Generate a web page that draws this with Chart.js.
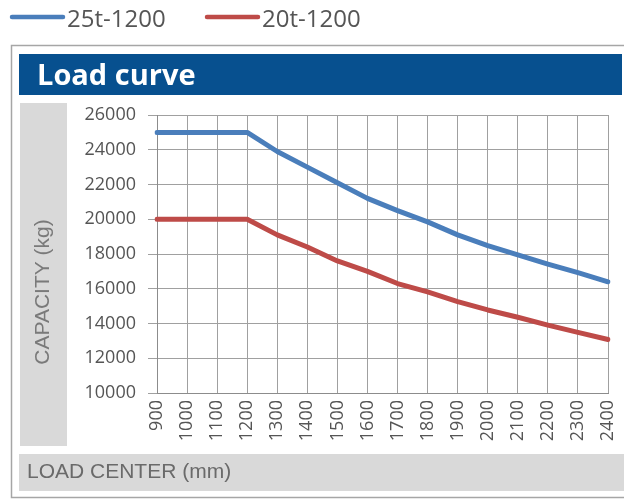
<!DOCTYPE html>
<html>
<head>
<meta charset="utf-8">
<script src="https://cdn.jsdelivr.net/npm/chart.js@4/dist/chart.umd.min.js"></script>
<style>
html,body{margin:0;padding:0;background:#fff;}
#wrap{width:624px;height:499px;position:relative;}
</style>
</head>
<body>
<div id="wrap"><canvas id="c" width="624" height="499"></canvas></div>
<script>
const loadCenters = ['900','1000','1100','1200','1300','1400','1500','1600','1700','1800','1900','2000','2100','2200','2300','2400'];
const cap25t = [25000,25000,25000,25000,23900,23000,22100,21200,20500,19850,19100,18480,17950,17420,16930,16400];
const cap20t = [20000,20000,20000,20000,19100,18400,17600,17000,16300,15820,15260,14780,14360,13910,13490,13080];
const seriesLabels = ['25t-1200','20t-1200'];
const chartTitle = 'Load curve';
const yTitle = 'CAPACITY (kg)';
const xTitle = 'LOAD CENTER (mm)';

const BLUE = '#4a7ebb';
const RED = '#be4b48';

const framePlugin = {
  id: 'frame',
  beforeDraw(chart) {
    const ctx = chart.ctx;
    ctx.save();
    ctx.strokeStyle = '#a6a6a6';
    ctx.lineWidth = 1.5;
    ctx.beginPath();
    ctx.moveTo(624, 45.5);
    ctx.lineTo(11.5, 45.5);
    ctx.lineTo(11.5, 497.5);
    ctx.lineTo(624, 497.5);
    ctx.stroke();
    ctx.fillStyle = '#07508f';
    ctx.fillRect(19, 54, 603, 41);
    ctx.fillStyle = '#ffffff';
    ctx.font = 'bold 29px "Open Sans"';
    ctx.textBaseline = 'alphabetic';
    ctx.textAlign = 'left';
    ctx.fillText(chartTitle, 37, 85);
    ctx.fillStyle = '#d9d9d9';
    ctx.fillRect(20, 103, 47, 343);
    ctx.fillRect(19, 454, 605, 37);
    ctx.fillStyle = '#7a7a7a';
    ctx.font = '21px "Liberation Sans"';
    ctx.save();
    ctx.translate(43, 292);
    ctx.rotate(-Math.PI / 2);
    ctx.textAlign = 'center';
    ctx.textBaseline = 'middle';
    ctx.fillText(yTitle, 0, 0);
    ctx.restore();
    ctx.fillStyle = '#6a6a6a';
    ctx.textAlign = 'left';
    ctx.textBaseline = 'middle';
    ctx.fillText(xTitle, 27, 472);
    const legendX = [10, 205];
    chart.data.datasets.forEach((ds, i) => {
      const x = legendX[i];
      ctx.strokeStyle = ds.borderColor;
      ctx.lineWidth = 4.5;
      ctx.lineCap = 'round';
      ctx.beginPath();
      ctx.moveTo(x + 2, 17);
      ctx.lineTo(x + 53, 17);
      ctx.stroke();
      ctx.fillStyle = '#555555';
      ctx.font = '24px "Open Sans"';
      ctx.textAlign = 'left';
      ctx.textBaseline = 'alphabetic';
      ctx.fillText(ds.label, x + 57, 27);
    });
    ctx.restore();
  }
};

new Chart(document.getElementById('c'), {
  type: 'line',
  data: {
    labels: loadCenters,
    datasets: [
      { label: seriesLabels[0], data: cap25t, borderColor: BLUE, backgroundColor: BLUE, borderWidth: 5, pointRadius: 0, tension: 0, borderJoinStyle: 'round', borderCapStyle: 'round' },
      { label: seriesLabels[1], data: cap20t, borderColor: RED, backgroundColor: RED, borderWidth: 5, pointRadius: 0, tension: 0, borderJoinStyle: 'round', borderCapStyle: 'round' }
    ]
  },
  options: {
    responsive: false,
    animation: false,
    devicePixelRatio: 1,
    layout: { padding: { left: 0, top: 115, right: 16, bottom: 46 } },
    plugins: {
      legend: { display: false },
      title: { display: false },
      tooltip: { enabled: false }
    },
    scales: {
      x: {
        type: 'category',
        offset: false,
        afterFit(scale) { scale.height = 60; scale.paddingLeft = 0; scale.paddingRight = 0; },
        grid: { color: '#a0a0a0', lineWidth: 1, drawTicks: false, offset: false },
        border: { color: '#8c8c8c', width: 1 },
        ticks: {
          minRotation: 90, maxRotation: 90, autoSkip: false, padding: 7,
          color: '#555555', font: { family: 'Open Sans', size: 18 }
        }
      },
      y: {
        min: 10000, max: 26000,
        afterFit(scale) { scale.width = 157; scale.paddingTop = 0; scale.paddingBottom = 0; },
        grid: { color: '#a0a0a0', lineWidth: 1, tickLength: 9 },
        border: { color: '#8c8c8c', width: 1 },
        ticks: {
          stepSize: 2000, padding: 12,
          color: '#555555', font: { family: 'Open Sans', size: 18 },
          callback: (v) => String(v)
        }
      }
    }
  },
  plugins: [framePlugin]
});
</script>
</body>
</html>
